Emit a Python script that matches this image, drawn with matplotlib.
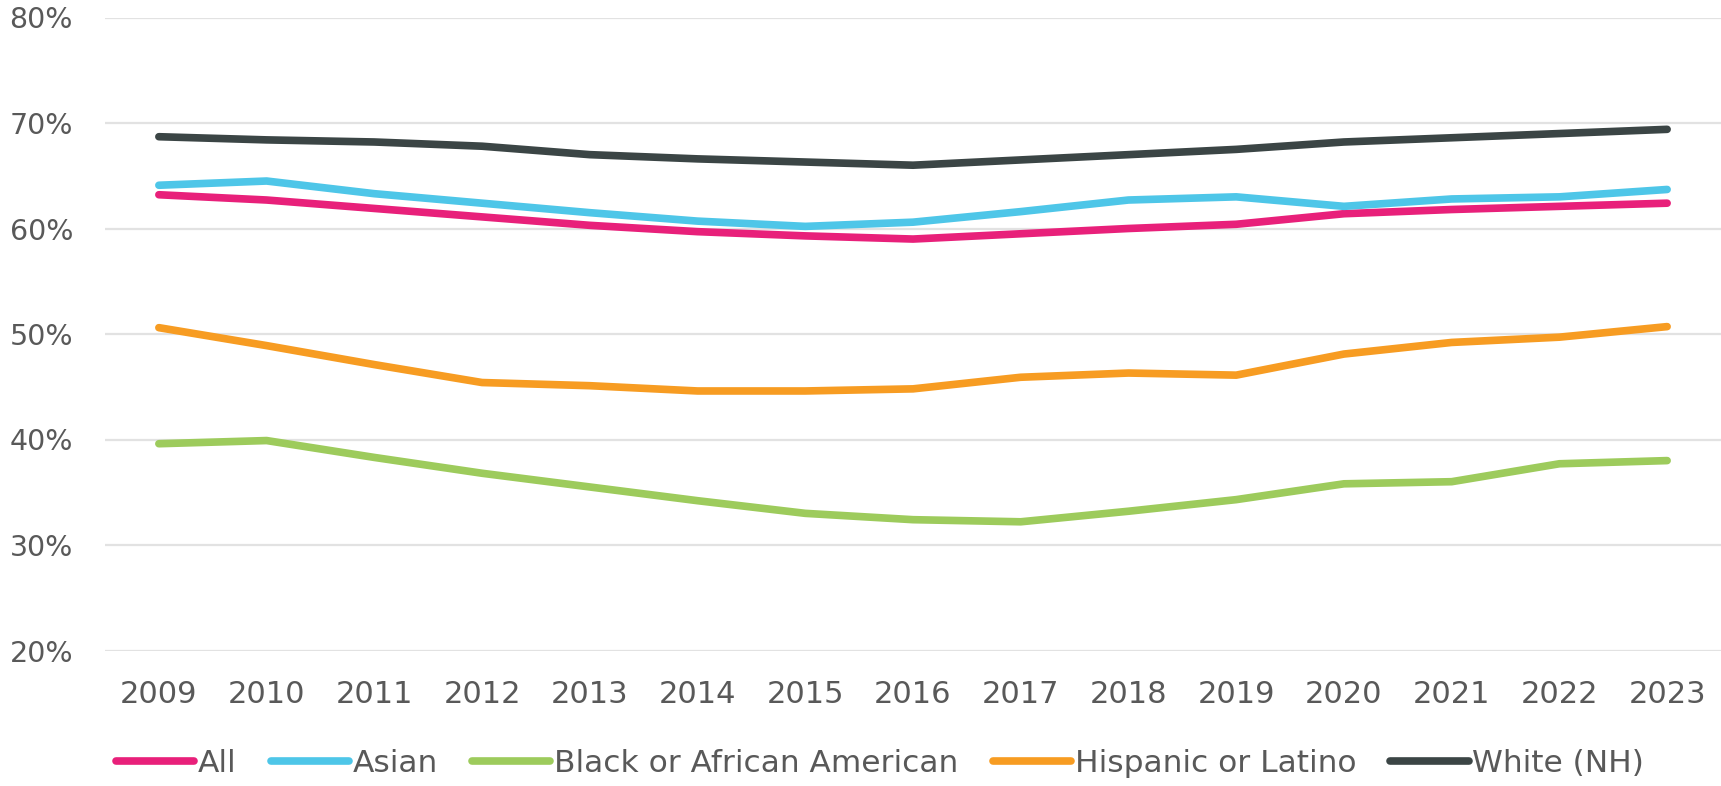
import numpy as np
import matplotlib
matplotlib.use('Agg')
import matplotlib.pyplot as plt

years = [2009, 2010, 2011, 2012, 2013, 2014, 2015, 2016,
         2017, 2018, 2019, 2020, 2021, 2022, 2023]

all_pct      = [63.2, 62.7, 61.9, 61.1, 60.3, 59.7, 59.3, 59.0, 59.5, 60.0, 60.4, 61.4, 61.8, 62.1, 62.4]
asian_pct    = [64.1, 64.5, 63.3, 62.4, 61.5, 60.7, 60.2, 60.6, 61.6, 62.7, 63.0, 62.1, 62.8, 63.0, 63.7]
black_pct    = [39.6, 39.9, 38.3, 36.8, 35.5, 34.2, 33.0, 32.4, 32.2, 33.2, 34.3, 35.8, 36.0, 37.7, 38.0]
hispanic_pct = [50.6, 48.9, 47.1, 45.4, 45.1, 44.6, 44.6, 44.8, 45.9, 46.3, 46.1, 48.1, 49.2, 49.7, 50.7]
white_pct    = [68.7, 68.4, 68.2, 67.8, 67.0, 66.6, 66.3, 66.0, 66.5, 67.0, 67.5, 68.2, 68.6, 69.0, 69.4]

labels = ["All", "Asian", "Black or African American", "Hispanic or Latino", "White (NH)"]
colors = ["#E8207A", "#4EC6E8", "#9DCB5C", "#F79C22", "#3B4545"]

yticks = [20, 30, 40, 50, 60, 70, 80]

fig = plt.figure(figsize=(17.21, 7.86), dpi=100)
ax = fig.add_axes([105/1721, 1 - 650.5/786, 1 - 105/1721, (650.5 - 17.5)/786])

x = np.arange(len(years))
series = [all_pct, asian_pct, black_pct, hispanic_pct, white_pct]
for vals, lab, col in zip(series, labels, colors):
  ax.plot(x, vals, color=col, linewidth=5.5, label=lab,
          solid_capstyle='round', solid_joinstyle='round')

ax.set_xlim(-0.5, len(years) - 0.5)
ax.set_ylim(20, 80)
ax.set_yticks(yticks)
ax.set_yticklabels([str(v) + "%" for v in yticks])
ax.set_xticks(x)
ax.set_xticklabels([str(y) for y in years])
ax.tick_params(axis='both', length=0, labelcolor='#595959')
ax.tick_params(axis='y', pad=23, labelsize=20.5)
ax.tick_params(axis='x', pad=21, labelsize=22)
ax.grid(axis='y', color='#E2E2E2', linewidth=1.6)
ax.set_axisbelow(True)
for s in ax.spines.values():
  s.set_visible(False)

leg = fig.legend(loc='center', bbox_to_anchor=(880/1721, 1 - 763/786), ncol=5,
                 frameon=False, fontsize=22.5, handlelength=2.5, handletextpad=0.12,
                 columnspacing=1.1)
for t in leg.get_texts():
  t.set_color('#595959')
for h in leg.get_lines():
  h.set_solid_capstyle('round')

fig.savefig("out.png", dpi=100)
